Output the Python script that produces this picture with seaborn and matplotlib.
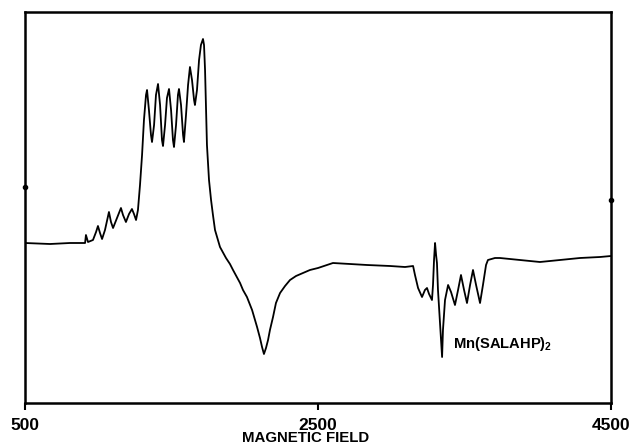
import matplotlib
matplotlib.use("Agg")
import matplotlib.pyplot as plt
import seaborn as sns
import pandas as pd

# Magnetic field (G) and derivative EPR signal (arbitrary units, baseline ~0)
field = [500, 671, 807, 910, 916, 930, 964, 985, 998, 1012, 1026, 1046, 1073, 1087,
         1101, 1128, 1155, 1169, 1189, 1210, 1230, 1244, 1258, 1271, 1285, 1299, 1312,
         1326, 1333, 1346, 1360, 1367, 1381, 1394, 1408, 1422, 1435, 1442, 1456, 1469,
         1483, 1497, 1510, 1517, 1531, 1544, 1551, 1565, 1579, 1585, 1599, 1613, 1626,
         1640, 1654, 1660, 1674, 1688, 1701, 1715, 1722, 1729, 1736, 1742, 1756, 1770,
         1783, 1797, 1831, 1872, 1899, 1920, 1968, 1988, 2015, 2050, 2084, 2104, 2118,
         2131, 2145, 2159, 2172, 2193, 2213, 2241, 2275, 2309, 2350, 2398, 2445, 2500,
         2602, 2718, 2835, 2992, 3094, 3149, 3162, 3183, 3210, 3230, 3244, 3258, 3278,
         3285, 3292, 3299, 3306, 3312, 3319, 3333, 3340, 3347, 3353, 3367, 3388, 3408,
         3435, 3456, 3476, 3497, 3517, 3538, 3558, 3579, 3606, 3626, 3647, 3660, 3708,
         3742, 3879, 4015, 4152, 4288, 4425, 4500]
signal = [0, -1, 0, 0, 8, 1, 3, 11, 17, 10, 4, 13, 31, 21,
          15, 25, 35, 28, 21, 29, 34, 29, 23, 33, 58, 88, 123,
          148, 153, 133, 108, 101, 118, 148, 159, 138, 103, 97, 118, 145,
          154, 133, 103, 96, 118, 148, 154, 138, 108, 101, 128, 158, 176,
          163, 143, 138, 153, 183, 198, 204, 198, 173, 133, 98, 63, 43,
          28, 13, -4, -15, -21, -27, -40, -47, -54, -67, -84, -95, -104,
          -111, -105, -97, -87, -74, -60, -50, -43, -37, -33, -30, -27, -25,
          -20, -21, -22, -23, -24, -23, -32, -45, -54, -47, -45, -51, -57,
          -42, -17, 0, -12, -20, -47, -80, -97, -114, -87, -57, -42, -49,
          -62, -47, -32, -47, -60, -42, -27, -42, -60, -42, -22, -17, -15,
          -15, -17, -19, -17, -15, -14, -13]

xticks = [500, 2500, 4500]
xtick_labels = ["500", "2500", "4500"]
spine_marks = [56, 43]          # small dots on left / right frame
label_text = r"Mn(SALAHP)$_\mathbf{2}$"
label_pos = (3421, -105)

sns.set_style("white")
plt.rcParams["text.color"] = "black"
plt.rcParams["axes.labelcolor"] = "black"
plt.rcParams["xtick.color"] = "black"
plt.rcParams["mathtext.fontset"] = "custom"
plt.rcParams["mathtext.bf"] = "Liberation Sans:bold"
plt.rcParams["mathtext.rm"] = "Liberation Sans"

df = pd.DataFrame({"field": field, "signal": signal})

fig = plt.figure(figsize=(6.31, 4.47), dpi=100)
ax = fig.add_axes([25 / 631, 44 / 447, 586 / 631, 391 / 447])

sns.lineplot(data=df, x="field", y="signal", ax=ax, color="black",
             linewidth=1.3, sort=False, estimator=None)

ax.set_xlim(500, 4500)
ax.set_ylim(-160, 231)

for s in ax.spines.values():
    s.set_visible(True)
    s.set_color("black")
    s.set_linewidth(1.8)

ax.set_xticks(xticks)
ax.set_xticklabels(xtick_labels, fontfamily="Liberation Sans",
                   fontweight="bold", fontsize=12.5, color="black")
ax.tick_params(axis="x", direction="out", length=5, width=1.5, pad=5.5,
               bottom=True, colors="black")
ax.set_yticks([])
ax.set_ylabel("")

ax.set_xlabel("MAGNETIC FIELD", fontfamily="Liberation Sans",
              fontweight="bold", fontsize=10.8, color="black")
ax.xaxis.label.set_va("baseline")
ax.xaxis.set_label_coords(0.4795, -0.1)

ax.plot([0], [spine_marks[0]], marker="o", ms=3, color="black",
        transform=ax.get_yaxis_transform(), clip_on=False)
ax.plot([1], [spine_marks[1]], marker="o", ms=3, color="black",
        transform=ax.get_yaxis_transform(), clip_on=False)

ax.text(label_pos[0], label_pos[1], label_text,
        fontfamily="Liberation Sans", color="black",
        fontweight="bold", fontsize=10.6, va="baseline", ha="left")

fig.savefig("out.png", dpi=100)
